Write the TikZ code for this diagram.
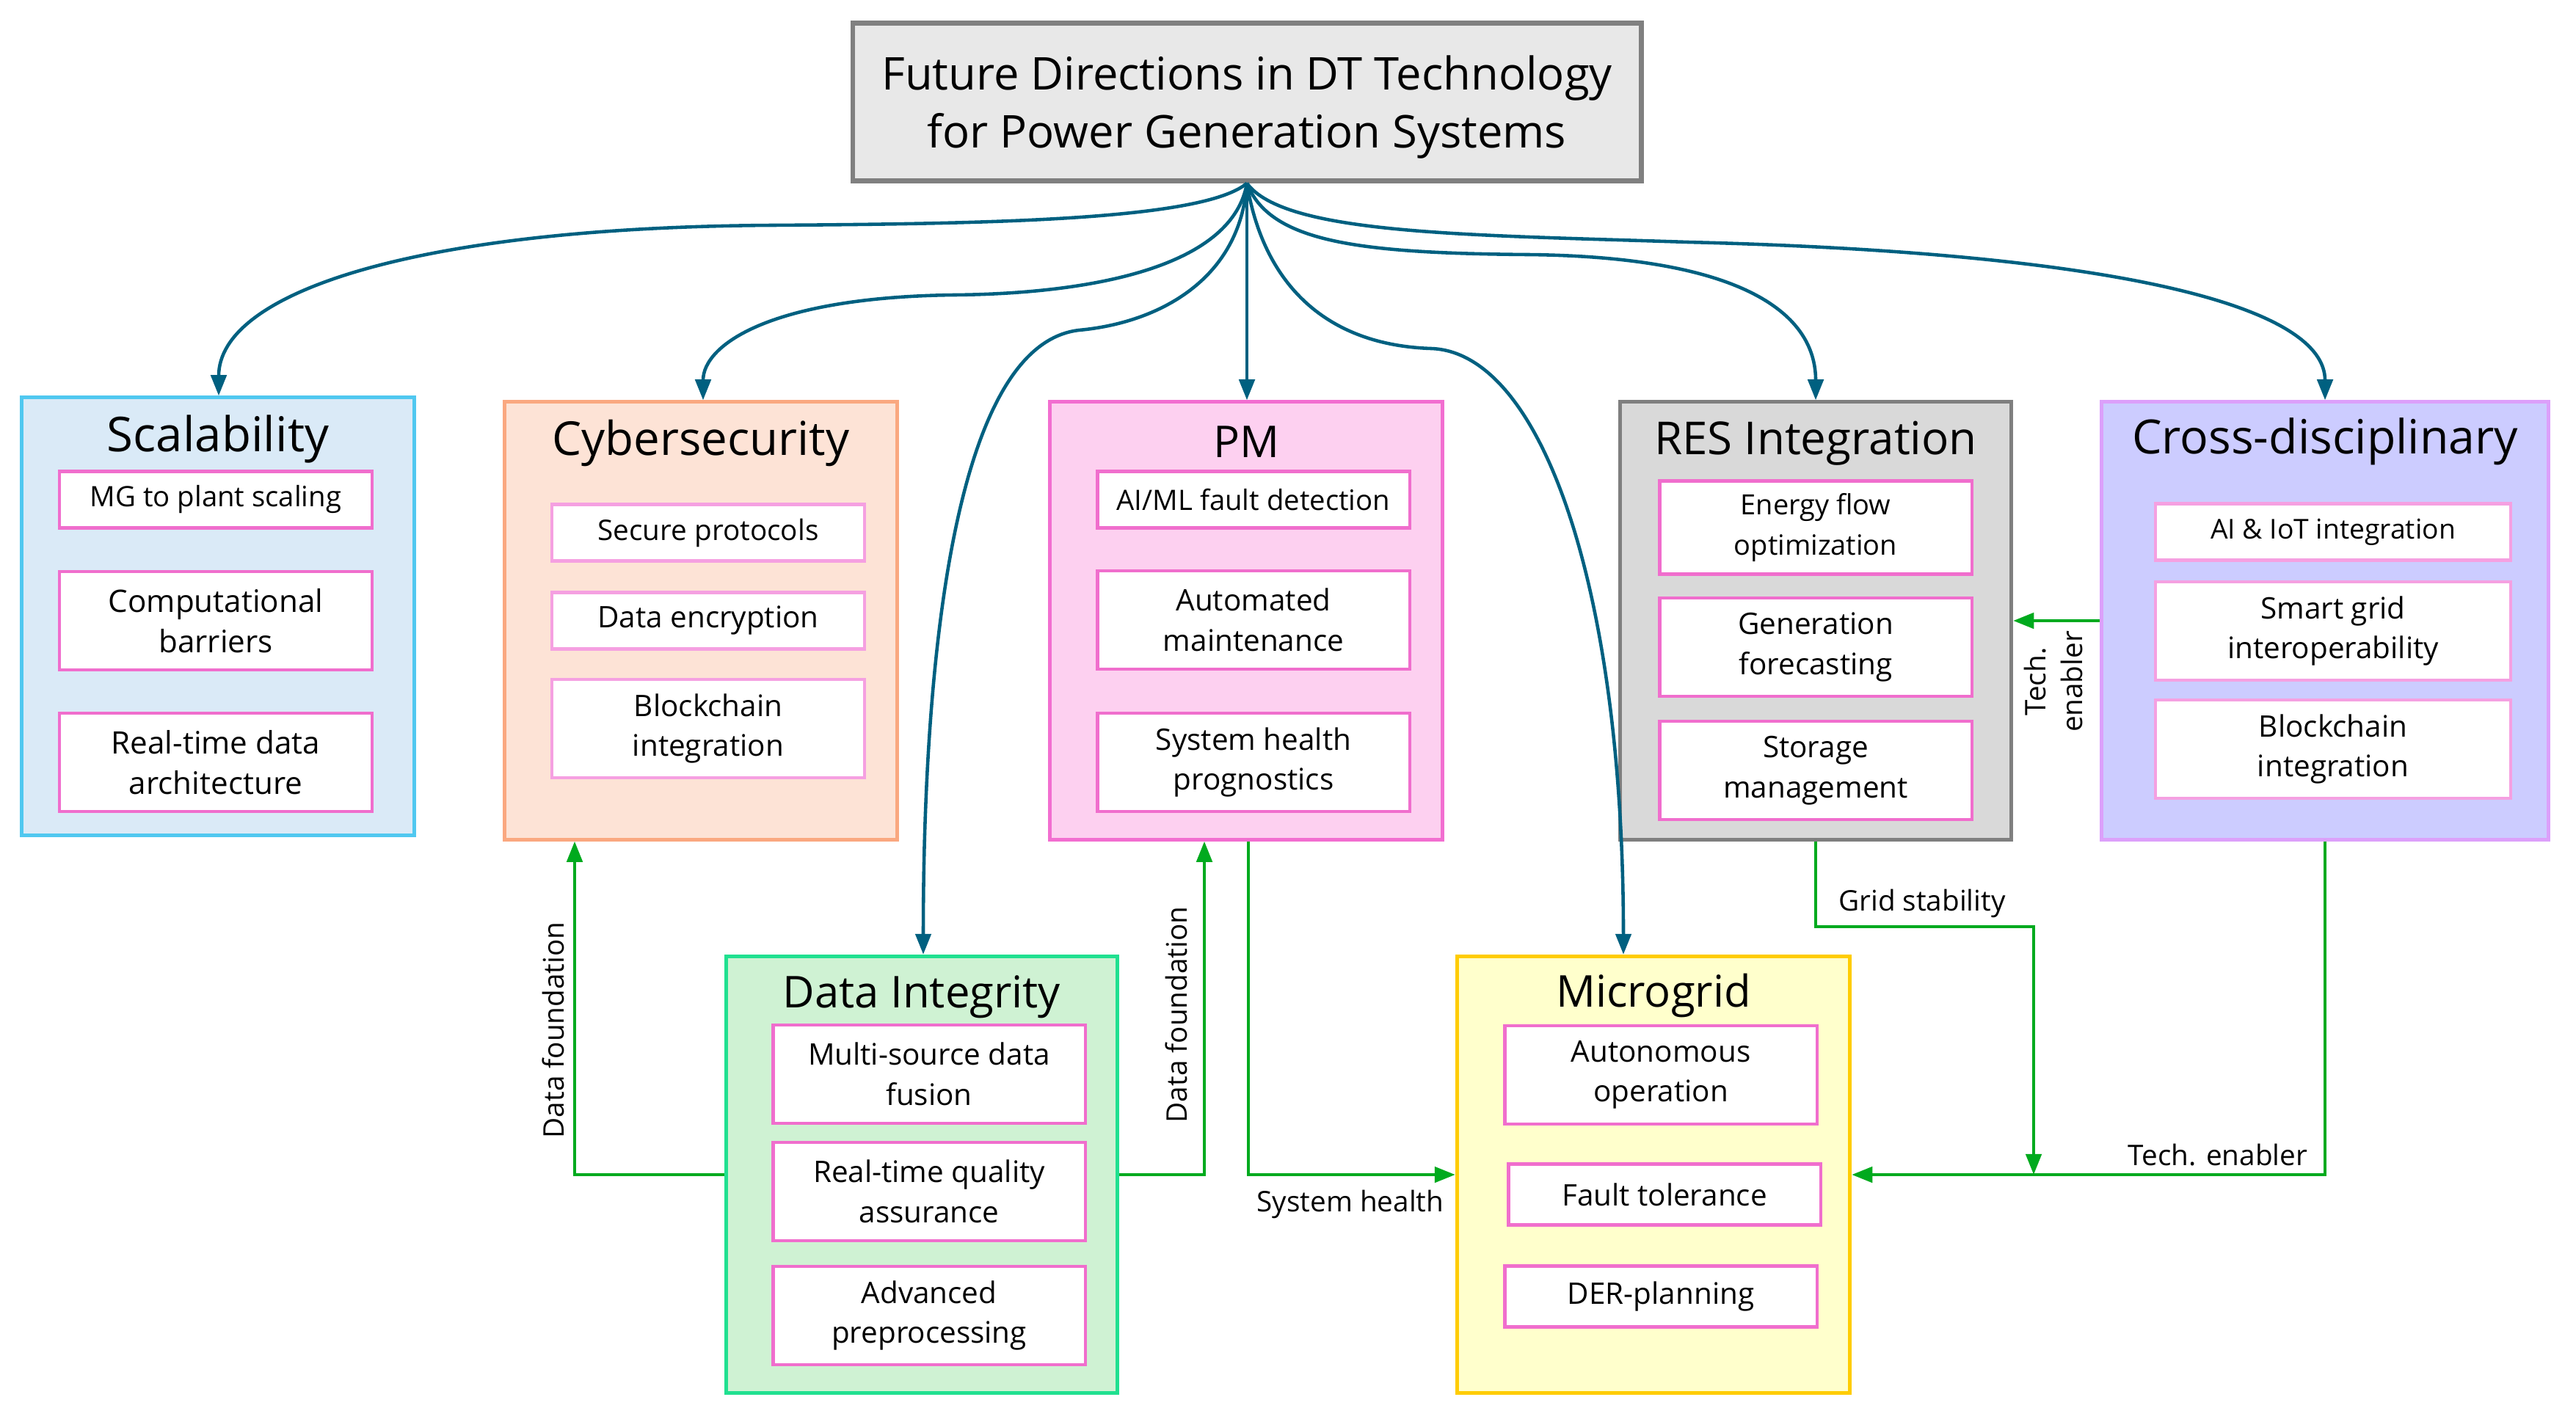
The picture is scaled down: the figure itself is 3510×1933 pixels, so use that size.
\documentclass[tikz,border=0pt]{standalone}
\usepackage{fontspec}
\setmainfont{Open Sans}
\usetikzlibrary{arrows.meta}
\definecolor{blu}{RGB}{0,96,128}
\definecolor{grn}{RGB}{0,170,30}
\definecolor{pinkb}{RGB}{240,110,205}
\definecolor{pinkl}{RGB}{245,160,225}
\definecolor{titlefill}{RGB}{232,232,232}
\definecolor{titledraw}{RGB}{128,128,128}
\definecolor{scalfill}{RGB}{218,234,247}
\definecolor{scaldraw}{RGB}{80,200,240}
\definecolor{cyfill}{RGB}{253,227,214}
\definecolor{cydraw}{RGB}{250,168,128}
\definecolor{pmfill}{RGB}{253,208,240}
\definecolor{pmdraw}{RGB}{242,110,208}
\definecolor{resfill}{RGB}{217,217,217}
\definecolor{resdraw}{RGB}{127,127,127}
\definecolor{crfill}{RGB}{204,204,255}
\definecolor{crdraw}{RGB}{220,160,250}
\definecolor{difill}{RGB}{207,242,211}
\definecolor{didraw}{RGB}{32,224,144}
\definecolor{mgfill}{RGB}{255,255,204}
\definecolor{mgdraw}{RGB}{255,204,0}
\tikzset{
  outerbox/.style={rectangle, line width=1.4pt, minimum width=5.35cm, minimum height=5.96cm},
  ttl/.style={font=\fontsize{17}{20}\selectfont},
  itembox/.style={rectangle, draw=pinkb, fill=white, line width=1.2pt, minimum width=4.25cm, align=center, inner sep=1pt, font=\fontsize{11.5}{15.5}\selectfont},
  onel/.style={minimum height=0.77cm},
  twol/.style={minimum height=1.34cm},
  smalltxt/.style={font=\fontsize{10.9}{13}\selectfont},
  bluearrow/.style={draw=blu, line width=1.3pt, -{Triangle[length=8pt,width=6pt]}},
  grnarrow/.style={draw=grn, line width=1.3pt, -{Triangle[length=8pt,width=6pt]}},
  lbl/.style={font=\fontsize{11}{13}\selectfont, inner sep=1pt},
}
\begin{document}
\begin{tikzpicture}[x=0.01cm,y=-0.01cm]
\useasboundingbox (0,0) rectangle (3510,1933);

% title
\node[rectangle, draw=titledraw, fill=titlefill, line width=1.8pt, minimum width=10.74cm, minimum height=2.15cm] (top) at (1699,139) {};
\node[align=center, font=\fontsize{17.5}{22.6}\selectfont] (toptxt) at (1699,146) {Future Directions in DT Technology\\for Power Generation Systems};

% Scalability
\node[outerbox, draw=scaldraw, fill=scalfill] (scal) at (297,840) {};
\node[ttl, font=\fontsize{18.6}{21}\selectfont] (scalt) at (297,598) {Scalability};
\node[itembox, onel, smalltxt] (s1) at (294,681) {MG to plant scaling};
\node[itembox, twol, font=\fontsize{12}{15.8}\selectfont] (s2) at (294,846) {Computational\\barriers};
\node[itembox, twol, font=\fontsize{12}{15.8}\selectfont] (s3) at (294,1039) {Real-time data\\architecture};

% Cybersecurity
\node[outerbox, draw=cydraw, fill=cyfill] (cyb) at (955,846) {};
\node[ttl, font=\fontsize{18.1}{21}\selectfont] (cybt) at (955,604) {Cybersecurity};
\node[itembox, draw=pinkl, onel, font=\fontsize{11}{13}\selectfont] (c1) at (965,726) {Secure protocols};
\node[itembox, draw=pinkl, onel] (c2) at (965,846) {Data encryption};
\node[itembox, draw=pinkl, twol] (c3) at (965,993) {Blockchain\\integration};

% PM
\node[outerbox, draw=pmdraw, fill=pmfill] (pm) at (1698,846) {};
\node[ttl] (pmt) at (1698,602) {PM};
\node[itembox, onel, smalltxt] (p1) at (1708,681) {AI/ML fault detection};
\node[itembox, twol] (p2) at (1708,845) {Automated\\maintenance};
\node[itembox, twol] (p3) at (1708,1039) {System health\\prognostics};

% RES
\node[outerbox, draw=resdraw, fill=resfill, minimum width=5.33cm] (res) at (2474,846) {};
\node[ttl, font=\fontsize{17.6}{20}\selectfont] (rest) at (2474,604) {RES Integration};
\node[itembox, twol, font=\fontsize{10.8}{15.5}\selectfont, minimum height=1.27cm] (r1) at (2474,719) {Energy flow\\optimization};
\node[itembox, twol] (r2) at (2474,882) {Generation\\forecasting};
\node[itembox, twol] (r3) at (2474,1050) {Storage\\management};

% Cross
\node[outerbox, draw=crdraw, fill=crfill, minimum width=6.09cm] (cr) at (3168,846) {};
\node[ttl, font=\fontsize{18.3}{21}\selectfont] (crt) at (3168,602) {Cross-disciplinary};
\node[itembox, draw=pinkl, onel, minimum width=4.84cm, font=\fontsize{10.6}{13}\selectfont] (x1) at (3179,725) {AI \& IoT integration};
\node[itembox, draw=pinkl, twol, minimum width=4.84cm] (x2) at (3179,860) {Smart grid\\interoperability};
\node[itembox, draw=pinkl, twol, minimum width=4.84cm] (x3) at (3179,1021) {Blockchain\\integration};

% Data Integrity
\node[outerbox, draw=didraw, fill=difill, minimum width=5.33cm, minimum height=5.95cm] (di) at (1256,1601) {};
\node[ttl] (dit) at (1256,1359) {Data Integrity};
\node[itembox, twol] (d1) at (1266,1464) {Multi-source data\\fusion};
\node[itembox, twol] (d2) at (1266,1624) {Real-time quality\\assurance};
\node[itembox, twol] (d3) at (1266,1793) {Advanced\\preprocessing};

% Microgrid
\node[outerbox, draw=mgdraw, fill=mgfill, minimum height=5.95cm] (mg) at (2253,1601) {};
\node[ttl] (mgt) at (2253,1357) {Microgrid};
\node[itembox, twol] (m1) at (2263,1465) {Autonomous\\operation};
\node[itembox, minimum height=0.83cm] (m2) at (2268,1628) {Fault tolerance};
\node[itembox, minimum height=0.83cm] (m3) at (2263,1767) {DER-planning};

% blue connectors
\coordinate (o) at (top.south);
\draw[bluearrow] (o) .. controls (1640,300) and (1350,305) .. (1052,307) .. controls (560,310) and (298,400) .. (scal.north -| 298,0);
\draw[bluearrow] (o) .. controls (1680,360) and (1500,400) .. (1300,402) .. controls (1050,405) and (958,470) .. (cyb.north -| 958,0);
\draw[bluearrow] (o) .. controls (1690,380) and (1580,440) .. (1470,450) .. controls (1300,470) and (1258,900) .. (di.north -| 1258,0);
\draw[bluearrow] (o) -- (pm.north -| o);
\draw[bluearrow] (o) .. controls (1720,380) and (1800,470) .. (1950,475) .. controls (2100,480) and (2212,800) .. (mg.north -| 2212,0);
\draw[bluearrow] (o) .. controls (1730,330) and (1850,345) .. (2082,347) .. controls (2380,350) and (2474,430) .. (res.north);
\draw[bluearrow] (o) .. controls (1750,320) and (2000,320) .. (2300,330) .. controls (2900,345) and (3168,420) .. (cr.north);

% green connectors
\draw[grnarrow] (di.west) -- (783,1601) -- (cyb.south -| 783,0);
\node[lbl, rotate=90] at (754,1404) {Data foundation};
\draw[grnarrow] (di.east) -- (1641,1601) -- (pm.south -| 1641,0);
\node[lbl, rotate=90] at (1603,1383) {Data foundation};
\draw[grnarrow] (pm.south -| 1701,0) -- (1701,1601) -- (mg.west);
\node[lbl] at (1840,1641) {System health};
\coordinate (gs) at (2771,1601);
\draw[grnarrow] (res.south) -- (2474,1263) -- (2771,1263) -- (gs);
\node[lbl] at (2619,1231) {Grid stability};
\draw[grnarrow] (cr.south) -- (3168,1601) -- (mg.east);
\node[lbl] at (3022,1574) {Tech. enabler};
\draw[grnarrow] (cr.west |- 0,846) -- (res.east |- 0,846);
\node[lbl, rotate=90, align=center, font=\fontsize{11}{14}\selectfont] at (2798,929) {Tech.\\enabler};
\end{tikzpicture}
\end{document}
